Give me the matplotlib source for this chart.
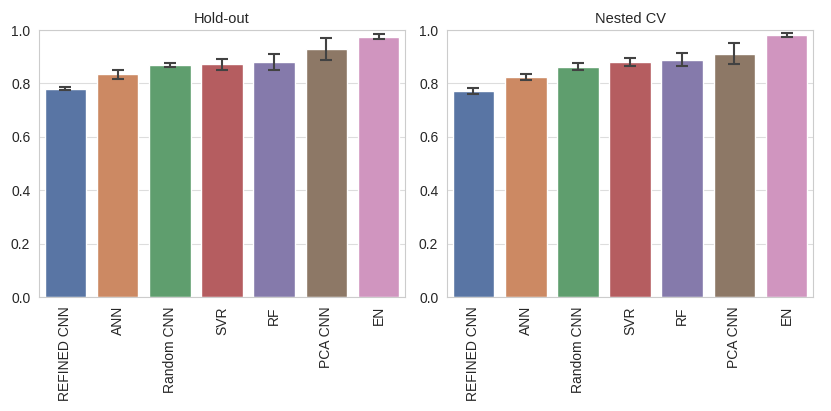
import numpy as np
import matplotlib
matplotlib.use("Agg")
import matplotlib.pyplot as plt
import seaborn as sns

# ======================
# data
# ======================
models = ["REFINED CNN", "ANN", "Random CNN", "SVR", "RF", "PCA CNN", "EN"]

holdout_mean = [0.780, 0.835, 0.870, 0.872, 0.882, 0.928, 0.975]
holdout_err = [0.006, 0.017, 0.008, 0.020, 0.030, 0.041, 0.009]

nested_mean = [0.772, 0.825, 0.862, 0.881, 0.889, 0.912, 0.982]
nested_err = [0.011, 0.011, 0.013, 0.015, 0.024, 0.038, 0.008]

titles = ["Hold-out", "Nested CV"]

# ======================
# style
# ======================
sns.set_style("whitegrid")
plt.rcParams['font.family'] = ['Liberation Sans', 'DejaVu Sans']

colors = [sns.desaturate(c, 0.75) for c in sns.color_palette("deep", 7)]

fig = plt.figure(figsize=(8.31, 4.11), dpi=100)
ax1 = fig.add_axes([0.0473, 0.277, 0.4397, 0.650])
ax2 = fig.add_axes([0.5383, 0.277, 0.4397, 0.650])


def draw(ax, means, errs, title):
    x = np.arange(len(models))
    ax.bar(x, means, width=0.8, color=colors, edgecolor="white", linewidth=1.0, zorder=2)
    ax.errorbar(x, means, yerr=errs, fmt="none", ecolor="#424242",
                elinewidth=1.5, capsize=4.5, capthick=1.5, zorder=3)
    ax.set_xticks(x)
    ax.set_xticklabels(models, rotation=90, fontsize=10)
    ax.set_xlim(-0.5, len(models) - 0.5)
    ax.set_ylim(0, 1.0)
    ax.set_yticks([0.0, 0.2, 0.4, 0.6, 0.8, 1.0])
    ax.set_yticklabels([f"{v:.1f}" for v in [0.0, 0.2, 0.4, 0.6, 0.8, 1.0]], fontsize=10)
    ax.tick_params(axis="both", pad=3, labelcolor="#262626")
    ax.xaxis.grid(False)
    ax.yaxis.grid(True, color="#dddddd", linewidth=0.8, zorder=0)
    ax.set_axisbelow(True)
    for s in ax.spines.values():
        s.set_color("#cccccc")
    ax.set_title(title, fontsize=10.5, color="#262626", pad=5)


draw(ax1, holdout_mean, holdout_err, titles[0])
draw(ax2, nested_mean, nested_err, titles[1])

fig.savefig("out.png", dpi=100)
